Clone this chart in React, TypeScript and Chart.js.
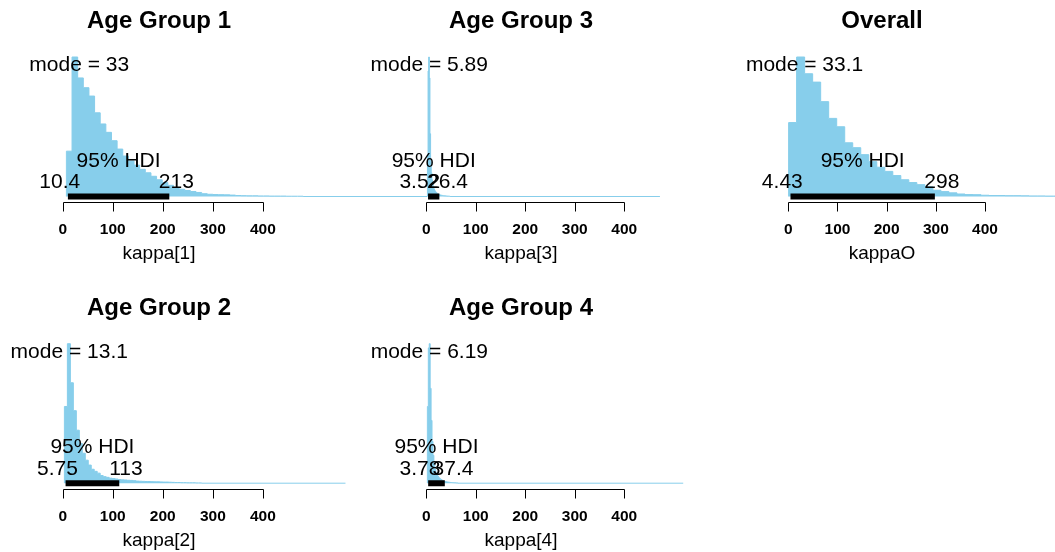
import { useEffect, useRef } from "react";
import { Chart, registerables } from "chart.js";

Chart.register(...registerables);

// ---------------------------------------------------------------------------
// Posterior summaries. Histogram heights are relative (tallest bin = 1).
// ---------------------------------------------------------------------------
const axisTicks = [0, 100, 200, 300, 400];
const credMass = 0.95;

const kappa1BinStart = 7.4;
const kappa1BinWidth = 11.26;
const kappa1SampleMax = 728;
const kappa1Mode = 33;
const kappa1Hdi = [10.4, 213];
const kappa1Heights = [
  0.325, 1.0, 0.85, 0.78, 0.72, 0.6, 0.52, 0.46, 0.4, 0.34, 0.29, 0.255, 0.225,
  0.195, 0.17, 0.145, 0.12, 0.1, 0.08, 0.065, 0.052, 0.043, 0.036, 0.029, 0.02,
  0.016, 0.014, 0.013, 0.012, 0.01, 0.007, 0.006, 0.005, 0.005, 0.004, 0.004,
  0.003, 0.003, 0.003, 0.002, 0.002, 0.002,
];

const kappa2BinStart = 3.4;
const kappa2BinWidth = 5.96;
const kappa2SampleMax = 565;
const kappa2Mode = 13.1;
const kappa2Hdi = [5.75, 113];
const kappa2Heights = [
  0.55, 1.0, 0.72, 0.52, 0.38, 0.285, 0.215, 0.165, 0.13, 0.1, 0.085, 0.072,
  0.055, 0.047, 0.042, 0.036, 0.033, 0.03, 0.026, 0.024, 0.023, 0.021, 0.02,
  0.018, 0.015, 0.014, 0.013, 0.012, 0.012, 0.011, 0.01, 0.01, 0.009, 0.008,
  0.008, 0.007, 0.006, 0.005, 0.005, 0.004, 0.004, 0.003, 0.003, 0.003, 0.002,
  0.002,
];

const kappa3BinStart = 2.3;
const kappa3BinWidth = 1.27;
const kappa3SampleMax = 472;
const kappa3Mode = 5.89;
const kappa3Hdi = [3.52, 26.4];
const kappa3Heights = [
  0.3, 0.9, 1.0, 0.85, 0.45, 0.25, 0.17, 0.12, 0.09, 0.07, 0.055, 0.045, 0.038,
  0.032, 0.027, 0.023, 0.02, 0.017, 0.015, 0.013, 0.011, 0.01, 0.009, 0.008,
  0.007, 0.006, 0.006, 0.005, 0.005, 0.004, 0.004, 0.003, 0.003, 0.003, 0.002,
  0.002,
];

const kappa4BinStart = 2.2;
const kappa4BinWidth = 1.87;
const kappa4SampleMax = 519;
const kappa4Mode = 6.19;
const kappa4Hdi = [3.78, 37.4];
const kappa4Heights = [
  0.55, 0.97, 1.0, 0.68, 0.45, 0.3, 0.2, 0.14, 0.1, 0.075, 0.06, 0.05, 0.04,
  0.034, 0.028, 0.024, 0.02, 0.017, 0.014, 0.012, 0.01, 0.009, 0.008, 0.007,
  0.006, 0.005, 0.005, 0.004, 0.004, 0.003, 0.003, 0.002, 0.002,
];

const kappaOBinStart = 0.6;
const kappaOBinWidth = 16.3;
const kappaOSampleMax = 560;
const kappaOMode = 33.1;
const kappaOHdi = [4.43, 298];
const kappaOHeights = [
  0.53, 1.0, 0.88, 0.82, 0.68, 0.56, 0.5, 0.385, 0.35, 0.3, 0.25, 0.21, 0.18,
  0.15, 0.12, 0.1, 0.085, 0.07, 0.045, 0.035, 0.026, 0.018, 0.014, 0.013,
  0.009, 0.007, 0.007, 0.006, 0.006, 0.005, 0.004, 0.004, 0.003, 0.003,
];

// ---------------------------------------------------------------------------
// Page layout (pixels)
// ---------------------------------------------------------------------------
const WIDTH = 1055;
const HEIGHT = 552;
const ROW1_BASE = 196.5;
const ROW2_BASE = 483.2;
const BAR_SPAN = 139.5; // pixel height of a relative height of 1
const FONT = '"Liberation Sans", Arial, Helvetica, sans-serif';
const SKY = "#87CEEB";
const INK = "#000000";

type PanelLayout = {
  zeroPx: number;
  pxPerUnit: number;
  baselinePx: number;
  centerPx: number;
};

type PanelSpec = {
  title: string;
  xlab: string;
  binStart: number;
  binWidth: number;
  heights: number[];
  sampleMax: number;
  mode: number;
  hdi: number[];
  layout: PanelLayout;
};

const panels: PanelSpec[] = [
  {
    title: "Age Group 1",
    xlab: "kappa[1]",
    binStart: kappa1BinStart,
    binWidth: kappa1BinWidth,
    heights: kappa1Heights,
    sampleMax: kappa1SampleMax,
    mode: kappa1Mode,
    hdi: kappa1Hdi,
    layout: { zeroPx: 62.7, pxPerUnit: 0.5005, baselinePx: ROW1_BASE, centerPx: 159 },
  },
  {
    title: "Age Group 2",
    xlab: "kappa[2]",
    binStart: kappa2BinStart,
    binWidth: kappa2BinWidth,
    heights: kappa2Heights,
    sampleMax: kappa2SampleMax,
    mode: kappa2Mode,
    hdi: kappa2Hdi,
    layout: { zeroPx: 62.7, pxPerUnit: 0.5005, baselinePx: ROW2_BASE, centerPx: 159 },
  },
  {
    title: "Age Group 3",
    xlab: "kappa[3]",
    binStart: kappa3BinStart,
    binWidth: kappa3BinWidth,
    heights: kappa3Heights,
    sampleMax: kappa3SampleMax,
    mode: kappa3Mode,
    hdi: kappa3Hdi,
    layout: { zeroPx: 426.3, pxPerUnit: 0.495, baselinePx: ROW1_BASE, centerPx: 521 },
  },
  {
    title: "Age Group 4",
    xlab: "kappa[4]",
    binStart: kappa4BinStart,
    binWidth: kappa4BinWidth,
    heights: kappa4Heights,
    sampleMax: kappa4SampleMax,
    mode: kappa4Mode,
    hdi: kappa4Hdi,
    layout: { zeroPx: 426.3, pxPerUnit: 0.495, baselinePx: ROW2_BASE, centerPx: 521 },
  },
  {
    title: "Overall",
    xlab: "kappaO",
    binStart: kappaOBinStart,
    binWidth: kappaOBinWidth,
    heights: kappaOHeights,
    sampleMax: kappaOSampleMax,
    mode: kappaOMode,
    hdi: kappaOHdi,
    layout: { zeroPx: 788.3, pxPerUnit: 0.4918, baselinePx: ROW1_BASE, centerPx: 882 },
  },
];

// Histogram outline as a stepped polyline through the bin edges.
function histogramPoints(p: PanelSpec) {
  const pts = [{ x: p.binStart, y: 0 }];
  p.heights.forEach((h, i) => pts.push({ x: p.binStart + i * p.binWidth, y: h }));
  pts.push({ x: p.binStart + p.heights.length * p.binWidth, y: 0 });
  pts.push({ x: p.sampleMax, y: 0 });
  return pts;
}

// Base-graphics style decorations: title, partial axis, labels.
const rPanelPlugin = {
  id: "rPanel",
  afterDraw(chart: any, _args: any, opts: any) {
    const p: PanelSpec = opts.panel;
    const { ctx } = chart;
    const xs = chart.scales.x;
    const ys = chart.scales.y;
    const zeroY = ys.getPixelForValue(0);
    const axisY = Math.round(ys.getPixelForValue(ys.min)) + 0.5;
    const topY = ys.getPixelForValue(ys.max);

    ctx.save();
    ctx.fillStyle = INK;
    ctx.strokeStyle = INK;
    ctx.lineWidth = 1;
    ctx.textBaseline = "alphabetic";
    ctx.textAlign = "center";

    ctx.font = `bold 24px ${FONT}`;
    ctx.fillText(p.title, p.layout.centerPx, topY - 23);

    const first = Math.round(xs.getPixelForValue(axisTicks[0])) + 0.5;
    const last = Math.round(xs.getPixelForValue(axisTicks[axisTicks.length - 1])) + 0.5;
    ctx.beginPath();
    ctx.moveTo(first, axisY);
    ctx.lineTo(last, axisY);
    axisTicks.forEach((t) => {
      const px = Math.round(xs.getPixelForValue(t)) + 0.5;
      ctx.moveTo(px, axisY);
      ctx.lineTo(px, axisY + 9);
    });
    ctx.stroke();

    ctx.font = `bold 15.5px ${FONT}`;
    axisTicks.forEach((t) => ctx.fillText(String(t), xs.getPixelForValue(t), axisY + 31));

    ctx.font = `19px ${FONT}`;
    ctx.fillText(p.xlab, p.layout.centerPx, axisY + 56);

    ctx.font = `21px ${FONT}`;
    ctx.fillText(`mode = ${p.mode}`, xs.getPixelForValue(p.mode), ys.getPixelForValue(0.9));
    ctx.fillText(
      `${Math.round(credMass * 100)}% HDI`,
      xs.getPixelForValue((p.hdi[0] + p.hdi[1]) / 2),
      zeroY - 30
    );
    ctx.textAlign = "left";
    const lo = String(p.hdi[0]);
    const hi = String(p.hdi[1]);
    ctx.fillText(lo, xs.getPixelForValue(p.hdi[0]) - 0.7 * ctx.measureText(lo).width, zeroY - 8.3);
    ctx.fillText(hi, xs.getPixelForValue(p.hdi[1]) - 0.3 * ctx.measureText(hi).width, zeroY - 8.3);
    ctx.restore();
  },
};

function buildConfig(p: PanelSpec): any {
  const L = p.layout;
  return {
    type: "line",
    data: {
      datasets: [
        {
          label: "HDI",
          data: [
            { x: p.hdi[0], y: 0 },
            { x: p.hdi[1], y: 0 },
          ],
          borderColor: INK,
          borderWidth: 6,
          borderCapStyle: "butt",
          pointRadius: 0,
          fill: false,
        },
        {
          label: p.xlab,
          data: histogramPoints(p),
          stepped: true,
          borderColor: SKY,
          backgroundColor: SKY,
          borderWidth: 1,
          pointRadius: 0,
          fill: "origin",
        },
      ],
    },
    options: {
      animation: false,
      responsive: false,
      maintainAspectRatio: false,
      events: [],
      layout: {
        padding: {
          left: 0,
          right: 0,
          top: L.baselinePx - 1.04 * BAR_SPAN,
          bottom: HEIGHT - (L.baselinePx + 0.04 * BAR_SPAN),
        },
      },
      scales: {
        x: {
          type: "linear",
          min: -L.zeroPx / L.pxPerUnit,
          max: (WIDTH - L.zeroPx) / L.pxPerUnit,
          display: false,
        },
        y: { type: "linear", min: -0.04, max: 1.04, display: false },
      },
      plugins: {
        legend: { display: false },
        tooltip: { enabled: false },
        title: { display: false },
        rPanel: { panel: p },
      },
    },
    plugins: [rPanelPlugin],
  };
}

function Panel({ spec }: { spec: PanelSpec }) {
  const ref = useRef<HTMLCanvasElement>(null);
  useEffect(() => {
    const chart = new Chart(ref.current as HTMLCanvasElement, buildConfig(spec));
    return () => chart.destroy();
  }, [spec]);
  return (
    <canvas
      ref={ref}
      width={WIDTH}
      height={HEIGHT}
      style={{ position: "absolute", left: 0, top: 0, width: WIDTH, height: HEIGHT }}
    />
  );
}

export default function App() {
  return (
    <div
      style={{
        position: "absolute",
        left: 0,
        top: 0,
        width: WIDTH,
        height: HEIGHT,
        background: "#ffffff",
        overflow: "hidden",
      }}
    >
      {panels.map((p) => (
        <Panel key={p.title} spec={p} />
      ))}
    </div>
  );
}
